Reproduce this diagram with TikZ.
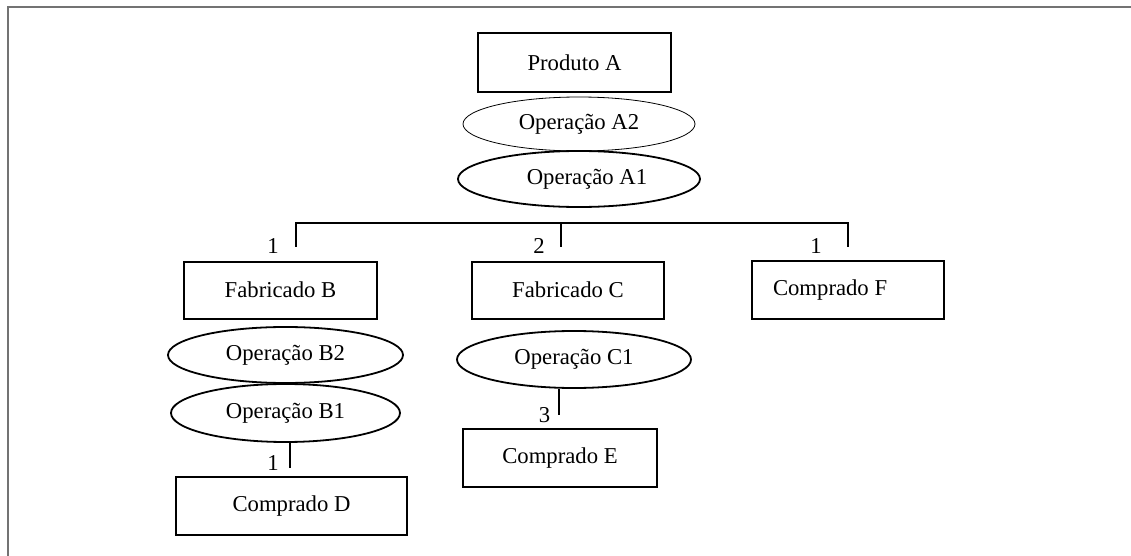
\documentclass[tikz,border=0pt]{standalone}
\usepackage{fontspec}
\setmainfont{Liberation Serif}
\usetikzlibrary{positioning,
        shapes}

\begin{document}
\begin{tikzpicture}[x=0.5pt,y=-0.5pt,
        every node/.style={font=\fontsize{11.35pt}{13pt}\selectfont},
        box/.style={rectangle,draw,line width=1pt,minimum width=96.5pt,minimum height=28.5pt,inner sep=0pt},
        oper/.style={ellipse,draw,line width=0.9pt,minimum width=117pt,minimum height=28pt,inner sep=0pt},
        link/.style={line width=1pt}]
            \useasboundingbox (0,0) rectangle (1131,556);
            \draw [black!55,line width=1.2pt] (8,556) -- (8,7) -- (1131,7);

            \node [box,minimum height=29.5pt] (ProdA) at (574.5,62.5) {Produto A};
            \node [oper,line width=0.4pt,minimum width=116pt,minimum height=27pt] (OpA2) at (579,124) {Operação A2};
            \node [oper,minimum width=121pt] (OpA1) at (579,179) {\hspace*{8pt}Operação A1};

            \node [box] (FabB) at (280.5,290) {Fabricado B};
            \node [box,minimum width=96pt] (FabC) at (568,290) {Fabricado C};
            \node [box,minimum width=96pt,minimum height=29pt,inner xsep=10.5pt] (CompF) at (848,290) {\makebox[75pt][l]{Comprado F}};

            \node [oper,minimum width=117.5pt] (OpB2) at (285.5,355) {Operação B2};
            \node [oper,minimum width=114.5pt,minimum height=29pt] (OpB1) at (285.5,413) {Operação B1};
            \node [oper,minimum height=28.5pt] (OpC1) at (574,359.5) {Operação C1};

            \node [box,minimum width=97pt,minimum height=29pt] (CompE) at (560,458) {Comprado E};
            \node [box,minimum width=115.5pt,minimum height=29pt] (CompD) at (291.5,506) {Comprado D};

            \coordinate (barB) at (296,223);
            \coordinate (barC) at (561,223);
            \coordinate (barF) at (848,223);
            \coordinate (endB) at (296,247);
            \coordinate (endC) at (561,247);
            \coordinate (endF) at (848,247);
            \coordinate (endD) at (290,468);
            \coordinate (endE) at (559,415);

            \node (qB) at (273,246) {1};
            \node (qC) at (539,246) {2};
            \node (qF) at (816,246) {1};
            \node (qD) at (273,463) {1};
            \node (qE) at (544.5,415) {3};

            \draw [link] (endB) -- (barB) -- (barF) -- (endF);
            \draw [link] (barC) -- (endC);
            \draw [link] (OpB1.south -| endD) -- (endD);
            \draw [link] (OpC1.south -| endE) -- (endE);
        \end{tikzpicture}
\end{document}
